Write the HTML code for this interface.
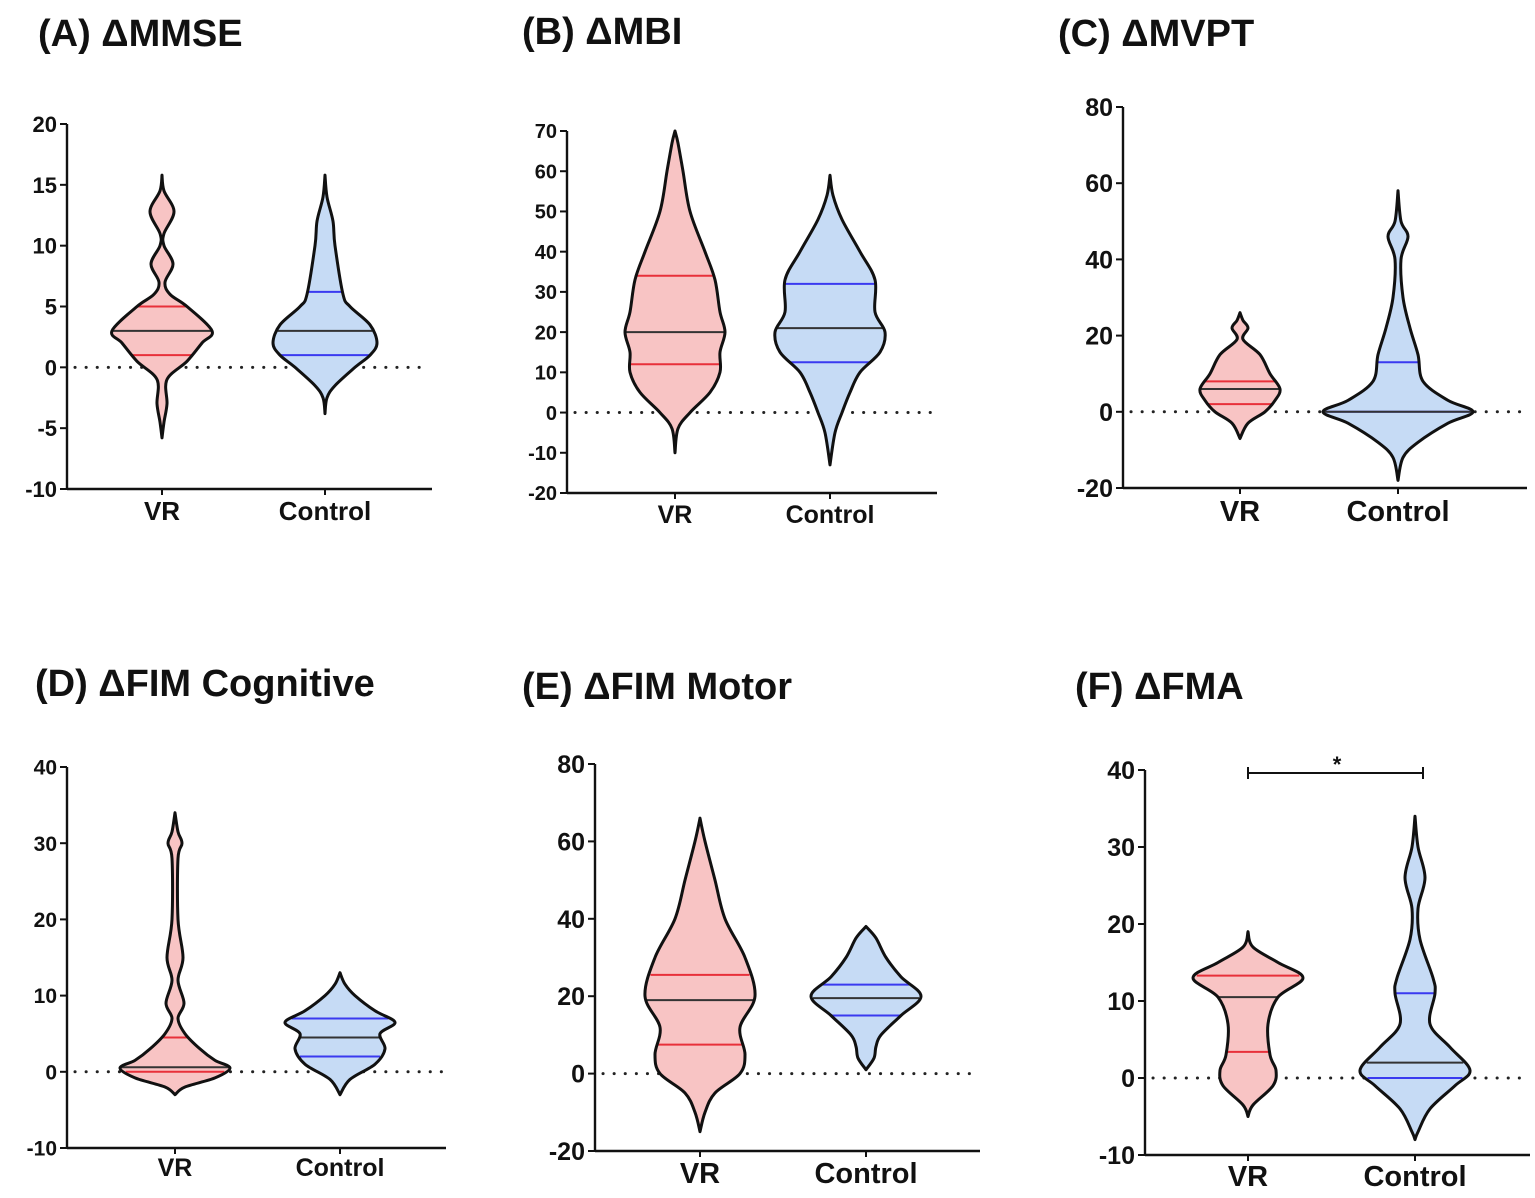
<!DOCTYPE html>
<html><head><meta charset="utf-8"><style>
html,body{margin:0;padding:0;background:#fff}
svg{display:block}
text{font-family:"Liberation Sans",Arial,sans-serif;font-weight:bold;fill:#111}
</style></head><body>
<svg id="s" width="1535" height="1198" viewBox="0 0 1535 1198"></svg>
<script>
// ---- data: violin profiles [value, density] and quartiles [q1, median, q3] ----
const categories = ["VR", "Control"];
const mmseVR = [[15.8,0],[14.5,2],[12.8,12],[11,2],[10,2],[8.5,11],[7,3],[6,8],[5,25],[3,50],[2,40],[0.5,25],[-1,5],[-3,5],[-4.5,2],[-5.8,0]];
const mmseCtl = [[15.8,0],[14,2],[12,8],[10,10],[6,18],[5,25],[3.5,45],[2,52],[1,45],[0,30],[-1.5,10],[-2.5,2],[-3.8,0]];
const mmseQ = [[1,3,5],[1,3,6.2]];
const mbiVR = [[70,0],[67,3],[60,8],[50,15],[40,30],[33,40],[25,45],[20,50],[15,45],[10,45],[5,35],[0,15],[-4,3],[-10,0]];
const mbiCtl = [[59,0],[54,3],[48,12],[40,30],[33,45],[25,45],[20,55],[15,50],[10,30],[5,20],[0,12],[-5,5],[-13,0]];
const mbiQ = [[12,20,34],[12.5,21,32]];
const mvptVR = [[26,0],[24,3],[22,8],[19,3],[15,20],[10,30],[6,40],[3,35],[0,25],[-3,8],[-7,0]];
const mvptCtl = [[58,0],[50,3],[46,10],[40,3],[30,5],[22,12],[15,20],[8,25],[3,50],[0,75],[-3,50],[-8,20],[-12,5],[-18,0]];
const mvptQ = [[2,6,8],[0,0,13]];
const fimcVR = [[34,0],[31.5,3],[30,7],[28,3],[20,3],[15,8],[12,3],[9,9],[7,3],[5,10],[3,25],[1.5,40],[0.5,55],[-0.8,40],[-2,10],[-3,0]];
const fimcCtl = [[13,0],[11.5,5],[10,15],[8,35],[6.5,55],[5,40],[3,45],[1,35],[-1,10],[-3,0]];
const fimcQ = [[0,0.6,4.5],[2,4.5,7]];
const fimmVR = [[66,0],[60,5],[50,15],[40,25],[30,45],[20,55],[12,40],[5,45],[0,40],[-5,15],[-10,5],[-15,0]];
const fimmCtl = [[38,0],[35,10],[30,20],[25,35],[20,55],[15,35],[10,15],[7,10],[4,8],[1,0]];
const fimmQ = [[7.5,19,25.5],[15,19.5,23]];
const fmaVR = [[19,0],[17,5],[15,30],[13,55],[10.5,30],[7,20],[3,22],[1,28],[-1,25],[-3.5,5],[-5,0]];
const fmaCtl = [[34,0],[30,3],[26,10],[22,3],[18,5],[13,18],[11,20],[7,15],[4,35],[1,55],[-1,40],[-4,15],[-7,3],[-8,0]];
const fmaQ = [[3.4,10.5,13.3],[0,2,11]];

const yTicksA = [20,15,10,5,0,-5,-10];
const yTicksB = [70,60,50,40,30,20,10,0,-10,-20];
const yTicksC = [80,60,40,20,0,-20];
const yTicksD = [40,30,20,10,0,-10];
const yTicksE = [80,60,40,20,0,-20];
const yTicksF = [40,30,20,10,0,-10];

// ---- layout ----
const panels = [
 {id:"a",title:"(A) ΔMMSE",tx:38,ty:46,ax:67,x1:432,yTop:124,yBot:489,ticks:yTicksA,cx:[162,325],v:[mmseVR,mmseCtl],q:mmseQ,tf:22,cf:26,cy:520,dotEnd:425},
 {id:"b",title:"(B) ΔMBI",tx:522,ty:44,ax:567,x1:937,yTop:131,yBot:493,ticks:yTicksB,cx:[675,830],v:[mbiVR,mbiCtl],q:mbiQ,tf:20,cf:25,cy:523,dotEnd:935},
 {id:"c",title:"(C) ΔMVPT",tx:1058,ty:46,ax:1123,x1:1527,yTop:107,yBot:488,ticks:yTicksC,cx:[1240,1398],v:[mvptVR,mvptCtl],q:mvptQ,tf:25,cf:29,cy:521,dotEnd:1525},
 {id:"d",title:"(D) ΔFIM Cognitive",tx:35,ty:696,ax:67,x1:446,yTop:767,yBot:1148,ticks:yTicksD,cx:[175,340],v:[fimcVR,fimcCtl],q:fimcQ,tf:21,cf:25,cy:1176,dotEnd:445},
 {id:"e",title:"(E) ΔFIM Motor",tx:522,ty:699,ax:595,x1:980,yTop:764,yBot:1151,ticks:yTicksE,cx:[700,866],v:[fimmVR,fimmCtl],q:fimmQ,tf:25,cf:29,cy:1183,dotEnd:978},
 {id:"f",title:"(F) ΔFMA",tx:1075,ty:699,ax:1145,x1:1530,yTop:770,yBot:1155,ticks:yTicksF,cx:[1248,1415],v:[fmaVR,fmaCtl],q:fmaQ,tf:25,cf:29,cy:1186,dotEnd:1528},
];
const NS="http://www.w3.org/2000/svg";
const svg=document.getElementById("s");
function mk(tag,attrs,parent){const e=document.createElementNS(NS,tag);for(const k in attrs)e.setAttribute(k,attrs[k]);(parent||svg).appendChild(e);return e;}
function interp(prof,v){for(let i=0;i<prof.length-1;i++){const a=prof[i],b=prof[i+1];if(v<=a[0]&&v>=b[0]){const t=(a[0]-v)/(a[0]-b[0]||1);return a[1]+(b[1]-a[1])*t;}}return 0;}
function smooth(pts){let d="M"+pts[0][0]+","+pts[0][1];for(let i=0;i<pts.length-1;i++){const p0=pts[Math.max(i-1,0)],p1=pts[i],p2=pts[i+1],p3=pts[Math.min(i+2,pts.length-1)];const c1=[p1[0]+(p2[0]-p0[0])/6,p1[1]+(p2[1]-p0[1])/6],c2=[p2[0]-(p3[0]-p1[0])/6,p2[1]-(p3[1]-p1[1])/6];d+=" C"+c1[0].toFixed(1)+","+c1[1].toFixed(1)+" "+c2[0].toFixed(1)+","+c2[1].toFixed(1)+" "+p2[0].toFixed(1)+","+p2[1].toFixed(1);}return d;}

panels.forEach(p=>{
 const g=mk("g",{});
 
 
 const yMax=p.ticks[0],yMin=p.ticks[p.ticks.length-1];
 const Y=v=>p.yBot-(v-yMin)/(yMax-yMin)*(p.yBot-p.yTop);
 const t=mk("text",{x:p.tx,y:p.ty,"font-size":38},g);t.textContent=p.title;
 
 
 const z=mk("line",{x1:p.ax+8,x2:p.dotEnd,y1:Y(0),y2:Y(0),stroke:"#222","stroke-width":3,"stroke-dasharray":"0.1 11","stroke-linecap":"round"},g);
 
 
 const fills=["#f8c4c4","#c6dbf5"], qc=["#e8303a","#3a3af0"];
 p.v.forEach((prof,ci)=>{
  const cx=p.cx[ci];
  const right=prof.map(d=>[cx+d[1],Y(d[0])]);
  const left=prof.slice().reverse().map(d=>[cx-d[1],Y(d[0])]);
  const d=smooth(right)+" L"+smooth(left).slice(1)+" Z";
  const path=mk("path",{d:d,fill:fills[ci],stroke:"none"},g);
  
  
  p.q[ci].forEach((qv,qi)=>{
   const hw=interp(prof,qv);
   const l=mk("line",{x1:cx-hw,x2:cx+hw,y1:Y(qv),y2:Y(qv),stroke:qi===1?"#333":qc[ci],"stroke-width":2},g);
   
   
  });
  const o=mk("path",{d:d,fill:"none",stroke:"#111","stroke-width":3,"stroke-linejoin":"round"},g);
  
  
  const c=mk("text",{x:cx,y:p.cy,"font-size":p.cf,"text-anchor":"middle"},g);c.textContent=categories[ci];
  
  
  const tk=mk("line",{x1:cx,x2:cx,y1:p.yBot,y2:p.yBot+6,stroke:"#111","stroke-width":2},g);
  
  
 });
 const ya=mk("line",{x1:p.ax,x2:p.ax,y1:p.yTop,y2:p.yBot,stroke:"#111","stroke-width":2.4},g);
 
 
 const xa=mk("line",{x1:p.ax,x2:p.x1,y1:p.yBot,y2:p.yBot,stroke:"#111","stroke-width":2.4},g);
 
 
 p.ticks.forEach(tv=>{
  const tl=mk("line",{x1:p.ax-7,x2:p.ax,y1:Y(tv),y2:Y(tv),stroke:"#111","stroke-width":2},g);
  
  
  const tt=mk("text",{x:p.ax-10,y:Y(tv)+p.tf*0.36,"font-size":p.tf,"text-anchor":"end"},g);tt.textContent=tv;
  
  
 });
 if(p.id==="f"){
  const b=mk("path",{d:"M1248,767 V779 M1248,773 H1423 M1423,767 V779",stroke:"#111","stroke-width":2,fill:"none"},g);
  
  
  const s=mk("text",{x:1337,y:772,"font-size":22,"text-anchor":"middle"},g);s.textContent="*";
  
  
 }
});
</script>
</body></html>
